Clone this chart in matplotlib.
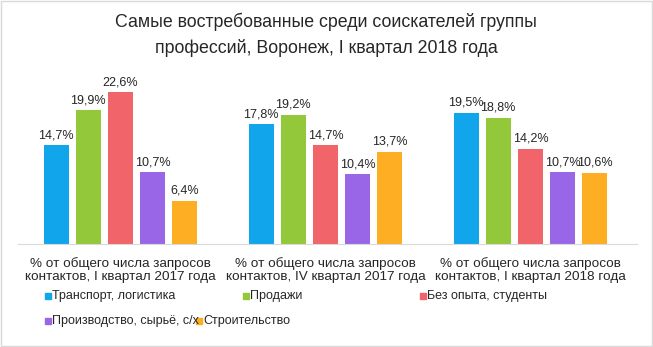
import matplotlib.pyplot as plt
import numpy as np

plt.rcParams['font.family'] = ['Liberation Sans', 'DejaVu Sans']

categories = ['% от общего числа запросов\nконтактов, I квартал 2017 года',
              '% от общего числа запросов\nконтактов, IV квартал 2017 года',
              '% от общего числа запросов\nконтактов, I квартал 2018 года']
series = ['Транспорт, логистика', 'Продажи', 'Без опыта, студенты',
          'Производство, сырьё, с/х', 'Строительство']
values = [
    [14.7, 17.8, 19.5],
    [19.9, 19.2, 18.8],
    [22.6, 14.7, 14.2],
    [10.7, 10.4, 10.7],
    [6.4, 13.7, 10.6],
]
colors = ['#11A5EC', '#93C83A', '#F0646A', '#9A66E8', '#FDAE22']

fig = plt.figure(figsize=(6.53, 3.47), dpi=100)
ax = fig.add_axes([18/653, 103/347, 619/653, 168/347])

x = np.arange(len(categories))
step = 0.157
width = 0.122
for i, (name, vals, c) in enumerate(zip(series, values, colors)):
    pos = x + (i - 2) * step
    ax.bar(pos, vals, width, color=c)
    for px, v in zip(pos, vals):
        ax.text(px, v + 0.6, f'{v:.1f}%'.replace('.', ','), ha='center',
                va='bottom', fontsize=9, color='#262626')

ax.set_xlim(-0.5, 2.52)
ax.set_ylim(0, 25)
ax.set_yticks([])
ax.set_xticks([])
for s in ['top', 'right', 'left']:
    ax.spines[s].set_visible(False)
ax.spines['bottom'].set_color('#D9D9D9')

for xi, lab in zip(x, categories):
    ax.text(xi, -1.9, lab, ha='center', va='top', fontsize=9.7,
            color='#262626', linespacing=1.15)

# legend drawn by hand to keep the Excel-like layout
leg_pos = [(45, 296), (243, 296), (420, 296), (45, 321), (196, 321)]
for (lx, ly), name, c in zip(leg_pos, series, colors):
    fig.patches.append(plt.Rectangle((lx / 653, 1 - (ly + 3) / 347), 6 / 653, 6 / 347,
                                     color=c, transform=fig.transFigure))
    fig.text((lx + 7) / 653, 1 - ly / 347, name, ha='left', va='center',
             fontsize=9, color='#262626')

fig.text(326 / 653, 1 - 35 / 347,
         'Самые востребованные среди соискателей группы\nпрофессий, Воронеж, I квартал 2018 года',
         ha='center', va='center', fontsize=12.8, color='#262626', linespacing=1.55)

fig.patches.append(plt.Rectangle((1 / 653, 1 / 347), 651 / 653, 345 / 347, fill=False,
                                 edgecolor='#D9D9D9', lw=1, transform=fig.transFigure))

fig.savefig('out.png', dpi=100)
